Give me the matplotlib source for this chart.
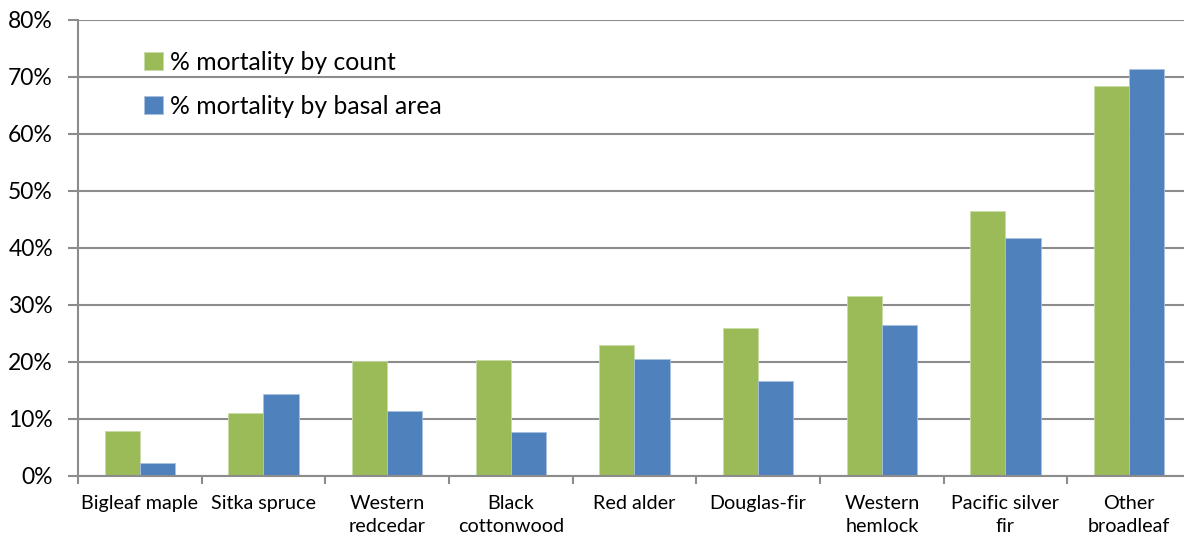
import numpy as np
import matplotlib.pyplot as plt
from matplotlib.ticker import FuncFormatter, FixedLocator

plt.rcParams['font.family'] = ['Lato', 'DejaVu Sans']

species = ['Bigleaf maple', 'Sitka spruce', 'Western\nredcedar', 'Black\ncottonwood',
           'Red alder', 'Douglas-fir', 'Western\nhemlock', 'Pacific silver\nfir',
           'Other\nbroadleaf']
pct_count = [7.8, 11.0, 20.1, 20.3, 22.9, 25.9, 31.6, 46.4, 68.4]
pct_basal = [2.2, 14.4, 11.4, 7.7, 20.5, 16.7, 26.5, 41.8, 71.4]

green = '#9BBB59'
blue = '#4F81BD'
grid_grey = '#8C8C8C'

W, H = 1184, 541
fig = plt.figure(figsize=(W / 100, H / 100), dpi=100)
# plot area runs a little past the right edge of the canvas
x0, x1, y0, y1 = 78, 1191, 475.7, 20
ax = fig.add_axes([x0 / W, 1 - y0 / H, (x1 - x0) / W, (y0 - y1) / H])

x = np.arange(len(species))
w = 0.285
ax.bar(x - w / 2, np.array(pct_count) / 100, w, color=green, edgecolor='#C9DBA6',
       linewidth=0.6, label='% mortality by count', zorder=3)
ax.bar(x + w / 2, np.array(pct_basal) / 100, w, color=blue, edgecolor='#A9C0DE',
       linewidth=0.6, label='% mortality by basal area', zorder=3)

ax.set_xlim(-0.5, len(species) - 0.5)
ax.set_ylim(0, 0.8)
ax.set_yticks(np.arange(0, 0.81, 0.1))
ax.yaxis.set_major_formatter(FuncFormatter(lambda v, _: f'{v * 100:.0f}%'))
ax.grid(axis='y', color=grid_grey, linewidth=1.5, zorder=0)
ax.set_axisbelow(True)

# category boundaries get the tick marks, names sit between them
ax.xaxis.set_major_locator(FixedLocator(np.arange(-0.5, len(species), 1.0)))
ax.xaxis.set_minor_locator(FixedLocator(x))
ax.set_xticklabels([])
ax.set_xticklabels(species, minor=True, fontsize=14.2, linespacing=1.45, va='top')
ax.tick_params(axis='x', which='major', length=6, width=1.5, color=grid_grey)
ax.tick_params(axis='x', which='minor', length=0, pad=14)
ax.tick_params(axis='y', length=7, width=1.5, color=grid_grey, labelsize=16.5, pad=11)

for side in ('top', 'right'):
    ax.spines[side].set_visible(False)
for side in ('left', 'bottom'):
    ax.spines[side].set_color(grid_grey)
    ax.spines[side].set_linewidth(1.5)
ax.spines['bottom'].set_zorder(4)

ax.legend(loc='upper left', bbox_to_anchor=(144 / W, 1 - 51 / H),
          bbox_transform=fig.transFigure, frameon=False, fontsize=17.8,
          handlelength=0.75, handleheight=0.75, handletextpad=0.3,
          labelspacing=0.85, borderaxespad=0, borderpad=0)

fig.savefig('out.png', dpi=100)
